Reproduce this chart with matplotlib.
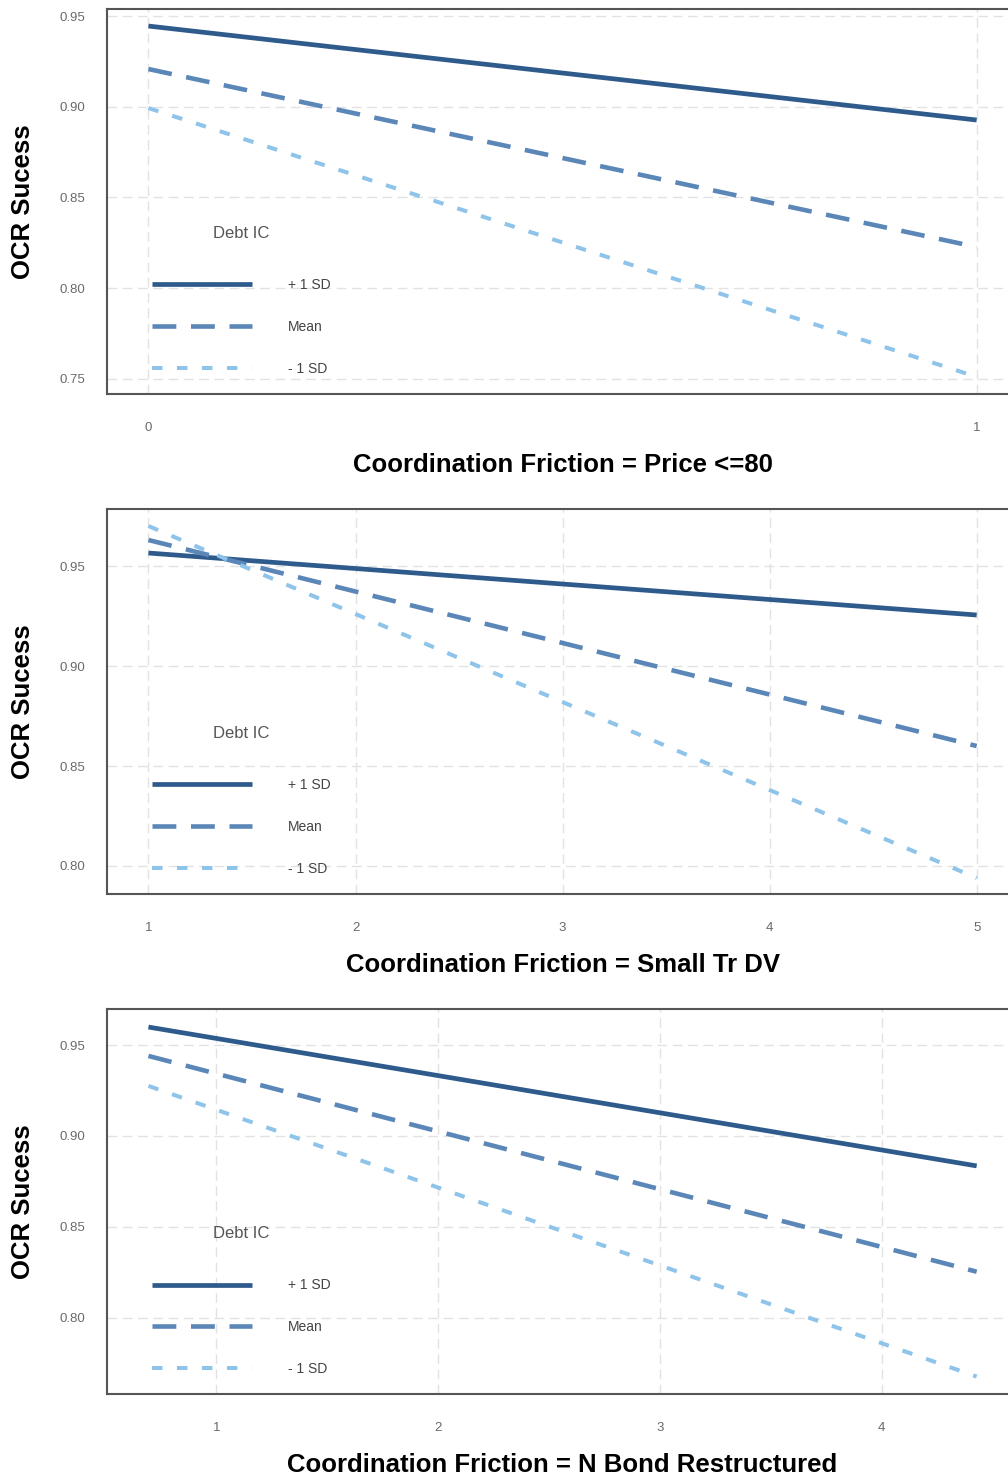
import matplotlib
matplotlib.use("Agg")
import matplotlib.pyplot as plt

plt.rcParams['font.family'] = ['Liberation Sans', 'DejaVu Sans']

# x endpoints and predicted OCR success for each panel (straight simple slopes)
x_price = [0, 1]
price_plus = [0.9445, 0.8927]
price_mean = [0.9208, 0.8227]
price_minus = [0.8993, 0.7511]

x_small = [1, 5]
small_plus = [0.9565, 0.9255]
small_mean = [0.963, 0.860]
small_minus = [0.970, 0.794]

x_bond = [0.694, 4.428]
bond_plus = [0.9599, 0.8835]
bond_mean = [0.944, 0.8253]
bond_minus = [0.9275, 0.7676]

panels = [
    ("Coordination Friction = Price <=80", x_price, price_plus, price_mean, price_minus,
     [0, 1], ["0", "1"], [0.75, 0.80, 0.85, 0.90, 0.95], (0.7417, 0.9539)),
    ("Coordination Friction = Small Tr DV", x_small, small_plus, small_mean, small_minus,
     [1, 2, 3, 4, 5], ["1", "2", "3", "4", "5"], [0.80, 0.85, 0.90, 0.95], (0.786, 0.9785)),
    ("Coordination Friction = N Bond Restructured", x_bond, bond_plus, bond_mean, bond_minus,
     [1, 2, 3, 4], ["1", "2", "3", "4"], [0.80, 0.85, 0.90, 0.95], (0.758, 0.9698)),
]

levels = ["+ 1 SD", "Mean", "- 1 SD"]
colors = ["#2f5b8c", "#5a87b8", "#8ec3ea"]

fig = plt.figure(figsize=(10.08, 14.75), dpi=100)
bottoms = [0.7329, 0.3939, 0.0549]

for (xlabel, xs, yp, ym, yn, xt, xtl, yt, ylim), b in zip(panels, bottoms):
    ax = fig.add_axes([0.1062, b, 0.9038, 0.261])
    ax.plot(xs, yp, color=colors[0], lw=3.4, solid_capstyle='butt', label=levels[0])
    ax.plot(xs, ym, color=colors[1], lw=3.3, dashes=(5.2, 3.2), label=levels[1])
    ax.plot(xs, yn, color=colors[2], lw=2.9, dashes=(2.6, 3.6), label=levels[2])
    ax.set_xlim(xs[0] - 0.05 * (xs[1] - xs[0]), xs[1] + 0.05 * (xs[1] - xs[0]))
    ax.set_ylim(*ylim)
    ax.set_xticks(xt)
    ax.set_xticklabels(xtl)
    ax.set_yticks(yt)
    ax.set_yticklabels([f"{v:.2f}" for v in yt])
    ax.tick_params(axis='both', length=0, labelsize=9.5, labelcolor='#6a6a6a')
    ax.tick_params(axis='x', pad=20)
    ax.tick_params(axis='y', pad=16)
    ax.grid(True, color='#e2e2e2', lw=1.0, dashes=(7, 4))
    ax.set_axisbelow(True)
    for side in ['left', 'top', 'bottom']:
        ax.spines[side].set_color('#555555')
        ax.spines[side].set_linewidth(1.5)
    ax.spines['right'].set_visible(False)
    ax.set_xlabel(xlabel, fontsize=18.5, fontweight='bold', labelpad=13.5)
    ax.set_ylabel("OCR Sucess", fontsize=18.5, fontweight='bold', labelpad=17.5)
    leg = ax.legend(title="Debt IC", loc='lower left', bbox_to_anchor=(0.049, 0.047),
                    frameon=False, fontsize=10, title_fontsize=12, handlelength=7.2,
                    handletextpad=2.6, labelspacing=2.0, borderpad=0, borderaxespad=0)
    leg.get_title().set_color('#555555')
    leg._legend_box.sep = 27
    for t in leg.get_texts():
        t.set_color('#444444')

fig.savefig("out.png", dpi=100)
